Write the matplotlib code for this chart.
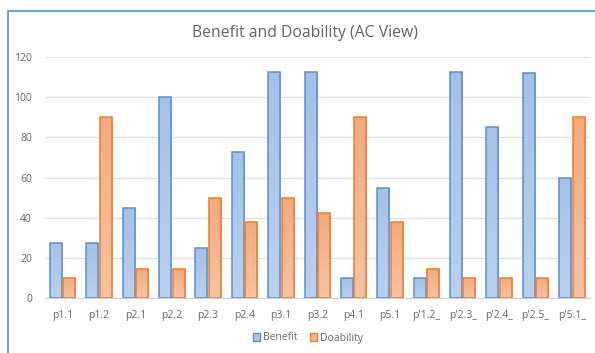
import numpy as np
import matplotlib
matplotlib.use("Agg")
import matplotlib.pyplot as plt
from matplotlib.patches import Rectangle, Patch
from matplotlib.colors import LinearSegmentedColormap

categories = ["p1.1", "p1.2", "p2.1", "p2.2", "p2.3", "p2.4", "p3.1", "p3.2",
              "p4.1", "p5.1", "p'1.2_", "p'2.3_", "p'2.4_", "p'2.5_", "p'5.1_"]
benefit = [27.5, 27.5, 45, 100, 25, 72.5, 112.5, 112.5, 10, 55, 10, 112.5, 85, 112, 60]
doability = [10, 90, 14.5, 14.5, 50, 38, 50, 42.5, 90, 38, 14.5, 10, 10, 10, 90]
y_ticks = [0, 20, 40, 60, 80, 100, 120]

plt.rcParams["font.family"] = ["Open Sans", "DejaVu Sans"]
grey = "#6a6a6a"

W, H = 595, 353
fig = plt.figure(figsize=(W / 100, H / 100), dpi=100)

# chart frame (extends past the right and bottom edges)
fig.patches.append(Rectangle((8 / W, -0.05), 1.2, 1 - 10.5 / H + 0.05,
                             transform=fig.transFigure, fill=False,
                             edgecolor="#5b9bd5", linewidth=1.3))

ax = fig.add_axes([44.5 / W, 1 - 297.7 / H, (590 - 44.5) / W, (297.7 - 57.3) / H])
x = np.arange(len(categories))
bw, off = 0.33, 0.185

blue_cmap = LinearSegmentedColormap.from_list("b", ["#a5c1e7", "#bad0ee"])
orange_cmap = LinearSegmentedColormap.from_list("o", ["#f4aa7d", "#f7c3a4"])

def gradient_bars(bars, cmap, edge):
    for b in bars:
        x0, y0 = b.get_x(), b.get_y()
        w, h = b.get_width(), b.get_height()
        grad = np.linspace(0, 1, 64).reshape(-1, 1)
        im = ax.imshow(grad, cmap=cmap, aspect="auto", origin="upper",
                       extent=(x0, x0 + w, y0, y0 + h), zorder=2,
                       interpolation="bilinear")
        im.set_clip_path(b)
        b.set_facecolor("none")
        b.set_edgecolor(edge)
        b.set_linewidth(1.1)
        b.set_zorder(3)

b1 = ax.bar(x - off, benefit, bw, label="Benefit")
b2 = ax.bar(x + off, doability, bw, label="Doability")
gradient_bars(b1, blue_cmap, "#5b8fd0")
gradient_bars(b2, orange_cmap, "#ed7d31")

ax.set_xlim(-0.5, len(categories) - 0.5)
ax.set_ylim(0, 120)
ax.set_yticks(y_ticks)
ax.set_xticks(x)
ax.set_xticklabels(categories)
ax.grid(axis="y", color="#e0e0e0", linewidth=0.9, zorder=0)
ax.set_axisbelow(True)
for s in ["top", "right", "left"]:
    ax.spines[s].set_visible(False)
ax.spines["bottom"].set_color("#d0d0d0")
ax.tick_params(axis="both", length=0, colors=grey, labelsize=7.5)
ax.tick_params(axis="x", pad=9)
ax.tick_params(axis="y", pad=9)

fig.text(305 / W, 1 - 33 / H, "Benefit and Doability (AC View)", ha="center",
         va="center", fontsize=11.3, color="#666666")

handles = [Patch(facecolor="#aec8ea", edgecolor="#5b8fd0", label="Benefit"),
           Patch(facecolor="#f5b690", edgecolor="#ed7d31", label="Doability")]
fig.legend(handles=handles, loc="center", bbox_to_anchor=(308 / W, 1 - 338 / H),
           ncol=2, frameon=False, fontsize=7.5, labelcolor=grey,
           handlelength=0.7, handleheight=0.7, handletextpad=0.3,
           columnspacing=1.2)

fig.savefig("out.png", dpi=100)
